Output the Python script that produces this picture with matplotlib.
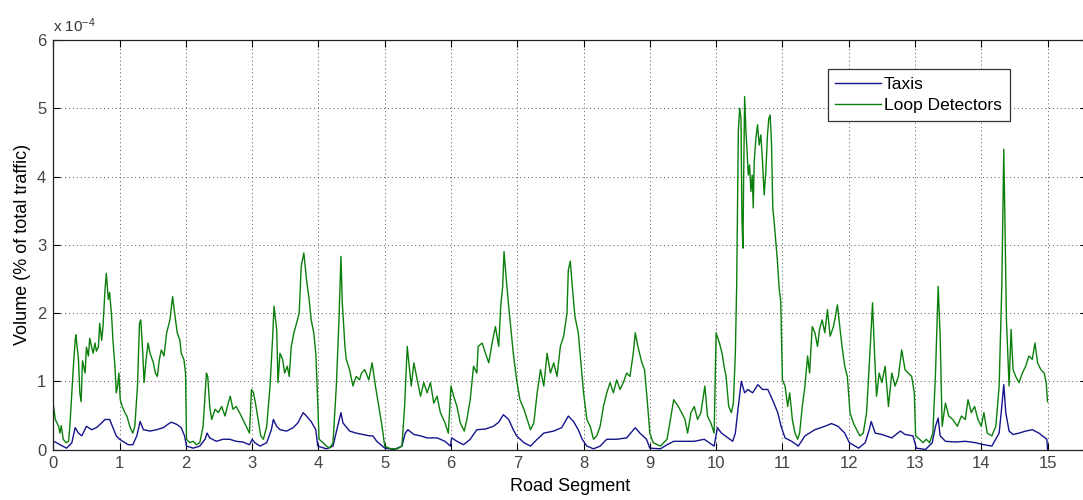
import matplotlib.pyplot as plt

plt.rcParams['font.family'] = ['Liberation Sans', 'DejaVu Sans']
plt.rcParams['mathtext.default'] = 'regular'

# Volume along road segments, in units of 1e-4 (% of total traffic)
loop_x = [0.00, 0.03, 0.08, 0.10, 0.12, 0.15, 0.19, 0.23, 0.25, 0.30, 0.33, 0.34, 0.38, 0.40, 0.42,
          0.44, 0.48, 0.50, 0.53, 0.55, 0.60, 0.63, 0.65, 0.68, 0.70, 0.73, 0.75, 0.78, 0.80, 0.83,
          0.85, 0.88, 0.90, 0.93, 0.95, 0.97, 0.99, 1.01, 1.04, 1.08, 1.11, 1.16, 1.20, 1.23, 1.27,
          1.30, 1.32, 1.35, 1.37, 1.40, 1.43, 1.46, 1.51, 1.54, 1.57, 1.60, 1.63, 1.67, 1.71, 1.76,
          1.80, 1.83, 1.87, 1.91, 1.93, 1.97, 1.995, 2.01, 2.06, 2.11, 2.16, 2.21, 2.26, 2.31, 2.33,
          2.36, 2.39, 2.44, 2.49, 2.54, 2.59, 2.64, 2.67, 2.71, 2.76, 2.81, 2.86, 2.91, 2.96, 2.99,
          3.02, 3.05, 3.09, 3.13, 3.17, 3.22, 3.27, 3.31, 3.33, 3.37, 3.39, 3.42, 3.46, 3.49, 3.53,
          3.56, 3.59, 3.63, 3.67, 3.71, 3.74, 3.78, 3.82, 3.86, 3.89, 3.93, 3.96, 3.98, 4.01, 4.07,
          4.12, 4.17, 4.22, 4.27, 4.31, 4.34, 4.36, 4.40, 4.42, 4.47, 4.52, 4.57, 4.62, 4.65, 4.70,
          4.76, 4.81, 4.86, 4.91, 4.96, 5.00, 5.09, 5.19, 5.26, 5.30, 5.34, 5.36, 5.40, 5.44, 5.49,
          5.54, 5.59, 5.64, 5.69, 5.74, 5.79, 5.84, 5.91, 5.96, 6.00, 6.04, 6.09, 6.14, 6.20, 6.24,
          6.29, 6.34, 6.39, 6.41, 6.47, 6.52, 6.57, 6.62, 6.67, 6.72, 6.75, 6.78, 6.80, 6.83, 6.87,
          6.90, 6.94, 6.99, 7.04, 7.10, 7.15, 7.20, 7.25, 7.30, 7.35, 7.40, 7.45, 7.50, 7.55, 7.60,
          7.65, 7.70, 7.75, 7.77, 7.80, 7.83, 7.87, 7.92, 7.96, 8.00, 8.05, 8.10, 8.15, 8.20, 8.25,
          8.30, 8.35, 8.40, 8.45, 8.50, 8.55, 8.60, 8.65, 8.70, 8.75, 8.78, 8.82, 8.88, 8.92, 8.96,
          9.00, 9.05, 9.16, 9.26, 9.31, 9.36, 9.43, 9.48, 9.53, 9.57, 9.62, 9.67, 9.72, 9.77, 9.83,
          9.87, 9.92, 9.97, 10.00, 10.05, 10.09, 10.12, 10.15, 10.19, 10.23, 10.26, 10.29, 10.31, 10.335,
          10.355, 10.375, 10.39, 10.405, 10.415, 10.43, 10.45, 10.465, 10.485, 10.505, 10.525, 10.545, 10.56, 10.575, 10.60,
          10.625, 10.65, 10.675, 10.70, 10.725, 10.75, 10.775, 10.795, 10.815, 10.835, 10.855, 10.875, 10.90, 10.925, 10.95,
          10.975, 11.00, 11.04, 11.08, 11.11, 11.15, 11.19, 11.23, 11.26, 11.30, 11.34, 11.38, 11.41, 11.45, 11.49,
          11.53, 11.56, 11.60, 11.64, 11.68, 11.72, 11.77, 11.80, 11.83, 11.87, 11.90, 11.94, 11.98, 12.02, 12.07,
          12.12, 12.17, 12.22, 12.27, 12.32, 12.36, 12.39, 12.42, 12.46, 12.50, 12.55, 12.60, 12.65, 12.70, 12.75,
          12.80, 12.85, 12.90, 12.95, 12.99, 13.01, 13.07, 13.12, 13.17, 13.22, 13.27, 13.31, 13.35, 13.38, 13.41,
          13.46, 13.51, 13.57, 13.64, 13.70, 13.76, 13.80, 13.85, 13.90, 13.95, 14.00, 14.04, 14.09, 14.16, 14.22,
          14.27, 14.31, 14.34, 14.36, 14.38, 14.42, 14.45, 14.48, 14.52, 14.57, 14.62, 14.67, 14.72, 14.77, 14.81,
          14.85, 14.90, 14.95, 14.98, 15.00]
loop_v = [0.66, 0.44, 0.34, 0.24, 0.35, 0.15, 0.10, 0.12, 0.34, 1.17, 1.60, 1.68, 1.32, 0.83, 0.70,
          1.30, 1.12, 1.50, 1.37, 1.63, 1.41, 1.56, 1.44, 1.50, 1.85, 1.60, 1.80, 2.34, 2.58, 2.20,
          2.30, 1.95, 1.60, 1.22, 0.83, 0.93, 1.12, 0.73, 0.63, 0.54, 0.49, 0.32, 0.24, 0.34, 0.93,
          1.85, 1.90, 1.41, 0.98, 1.32, 1.56, 1.41, 1.27, 1.12, 1.07, 1.32, 1.46, 1.37, 1.71, 1.90,
          2.24, 2.00, 1.71, 1.60, 1.41, 1.32, 1.12, 0.15, 0.10, 0.12, 0.07, 0.10, 0.34, 1.12, 1.07,
          0.63, 0.44, 0.59, 0.54, 0.63, 0.49, 0.68, 0.78, 0.59, 0.63, 0.54, 0.44, 0.34, 0.24, 0.88,
          0.83, 0.68, 0.44, 0.20, 0.15, 0.34, 0.93, 1.66, 2.10, 1.76, 0.98, 1.41, 1.32, 1.12, 1.22,
          1.07, 1.51, 1.71, 1.85, 2.00, 2.68, 2.88, 2.49, 2.20, 1.90, 1.71, 1.41, 0.93, 0.15, 0.10,
          0.05, 0.02, 0.10, 0.93, 1.90, 2.83, 2.15, 1.51, 1.32, 1.17, 0.93, 1.07, 1.02, 1.12, 1.17,
          1.02, 1.27, 0.93, 0.63, 0.34, 0.05, 0.01, 0.01, 0.05, 0.63, 1.51, 1.32, 0.93, 1.27, 1.02,
          0.78, 0.98, 0.83, 0.98, 0.68, 0.78, 0.54, 0.39, 0.24, 0.93, 0.78, 0.63, 0.39, 0.27, 0.44,
          0.73, 1.22, 1.12, 1.51, 1.56, 1.41, 1.27, 1.56, 1.80, 1.51, 2.10, 2.39, 2.90, 2.54, 2.10,
          1.80, 1.41, 1.02, 0.73, 0.59, 0.44, 0.29, 0.39, 0.83, 1.17, 0.93, 1.41, 1.12, 1.27, 1.07,
          1.51, 1.66, 2.00, 2.63, 2.76, 2.39, 1.95, 1.71, 1.27, 0.83, 0.44, 0.34, 0.15, 0.20, 0.34,
          0.63, 0.83, 0.98, 0.83, 1.02, 0.88, 0.98, 1.12, 1.07, 1.41, 1.71, 1.51, 1.27, 1.17, 0.73,
          0.24, 0.10, 0.05, 0.15, 0.44, 0.73, 0.63, 0.54, 0.44, 0.24, 0.54, 0.63, 0.44, 0.54, 0.93,
          0.49, 0.39, 0.24, 1.71, 1.56, 1.41, 1.22, 1.07, 0.63, 0.54, 0.68, 1.41, 2.40, 4.66,
          5.00, 4.85, 3.34, 2.95, 3.93, 5.17, 4.66, 4.41, 4.02, 4.17, 3.78, 4.02, 3.54, 4.22, 4.56,
          4.76, 4.46, 4.61, 4.22, 3.73, 4.07, 4.61, 4.85, 4.90, 4.51, 3.54, 3.34, 3.05, 2.76, 2.37,
          2.17, 1.02, 0.93, 0.63, 0.83, 0.44, 0.24, 0.15, 0.24, 0.63, 0.93, 1.37, 1.12, 1.80, 1.71,
          1.51, 1.76, 1.90, 1.71, 2.05, 1.66, 1.80, 1.95, 2.12, 1.76, 1.51, 1.22, 1.07, 0.54, 0.39,
          0.29, 0.20, 0.24, 0.54, 1.41, 2.15, 1.41, 0.78, 1.12, 0.98, 1.22, 0.63, 1.12, 0.93, 1.07,
          1.46, 1.17, 1.12, 1.07, 0.83, 0.20, 0.15, 0.10, 0.15, 0.10, 0.24, 1.12, 2.39, 1.66, 0.34,
          0.68, 0.49, 0.44, 0.34, 0.49, 0.44, 0.73, 0.54, 0.63, 0.44, 0.34, 0.54, 0.24, 0.20, 0.34,
          0.93, 2.39, 4.40, 3.20, 1.90, 0.93, 1.76, 1.17, 1.07, 0.98, 1.12, 1.22, 1.37, 1.32, 1.56,
          1.27, 1.17, 1.12, 0.98, 0.70]

taxi_x = [0.00, 0.05, 0.10, 0.20, 0.28, 0.33, 0.38, 0.43, 0.50, 0.58, 0.65, 0.73, 0.78, 0.85, 0.90,
          0.95, 1.00, 1.05, 1.13, 1.20, 1.26, 1.31, 1.36, 1.46, 1.56, 1.66, 1.73, 1.78, 1.86, 1.93,
          1.98, 2.01, 2.11, 2.21, 2.29, 2.32, 2.36, 2.46, 2.56, 2.66, 2.76, 2.86, 2.96, 3.00, 3.04,
          3.12, 3.22, 3.29, 3.32, 3.37, 3.42, 3.52, 3.62, 3.69, 3.77, 3.82, 3.89, 3.96, 3.99, 4.12,
          4.22, 4.29, 4.34, 4.37, 4.47, 4.57, 4.67, 4.77, 4.82, 4.88, 5.00, 5.14, 5.26, 5.31, 5.35,
          5.44, 5.54, 5.64, 5.79, 5.91, 5.99, 6.01, 6.09, 6.19, 6.29, 6.39, 6.52, 6.64, 6.72, 6.79,
          6.87, 6.94, 6.99, 7.10, 7.20, 7.30, 7.40, 7.55, 7.67, 7.77, 7.85, 7.92, 7.98, 8.05, 8.15,
          8.25, 8.35, 8.50, 8.65, 8.78, 8.85, 8.95, 9.00, 9.16, 9.26, 9.36, 9.50, 9.67, 9.82, 9.97,
          10.02, 10.08, 10.18, 10.25, 10.29, 10.33, 10.38, 10.43, 10.48, 10.55, 10.63, 10.70, 10.78, 10.85, 10.93,
          10.98, 11.04, 11.14, 11.24, 11.34, 11.49, 11.64, 11.74, 11.84, 11.94, 12.01, 12.15, 12.25, 12.31, 12.34,
          12.40, 12.50, 12.65, 12.78, 12.85, 12.97, 13.02, 13.16, 13.26, 13.31, 13.35, 13.38, 13.46, 13.61, 13.76,
          13.91, 14.04, 14.16, 14.27, 14.31, 14.34, 14.37, 14.42, 14.48, 14.57, 14.67, 14.77, 14.87, 14.99, 15.00]
taxi_v = [0.12, 0.10, 0.07, 0.02, 0.10, 0.32, 0.24, 0.20, 0.34, 0.29, 0.32, 0.39, 0.44, 0.44, 0.32,
          0.20, 0.15, 0.12, 0.07, 0.07, 0.20, 0.41, 0.29, 0.27, 0.29, 0.32, 0.37, 0.40, 0.37, 0.32,
          0.20, 0.05, 0.02, 0.05, 0.15, 0.24, 0.17, 0.12, 0.15, 0.15, 0.12, 0.11, 0.07, 0.15, 0.10,
          0.05, 0.10, 0.29, 0.44, 0.34, 0.29, 0.27, 0.32, 0.39, 0.54, 0.49, 0.41, 0.29, 0.05, 0.01,
          0.05, 0.34, 0.54, 0.39, 0.27, 0.24, 0.22, 0.20, 0.20, 0.12, 0.02, 0.00, 0.05, 0.24, 0.29,
          0.22, 0.20, 0.17, 0.17, 0.12, 0.05, 0.17, 0.12, 0.07, 0.15, 0.29, 0.30, 0.34, 0.40, 0.51,
          0.44, 0.29, 0.20, 0.10, 0.05, 0.15, 0.24, 0.27, 0.32, 0.49, 0.41, 0.29, 0.15, 0.05, 0.01,
          0.05, 0.15, 0.15, 0.17, 0.32, 0.24, 0.15, 0.02, 0.01, 0.07, 0.12, 0.12, 0.12, 0.15, 0.05,
          0.32, 0.24, 0.17, 0.12, 0.24, 0.59, 1.00, 0.83, 0.88, 0.83, 0.95, 0.88, 0.88, 0.73, 0.54,
          0.34, 0.17, 0.12, 0.05, 0.20, 0.29, 0.34, 0.38, 0.34, 0.24, 0.10, 0.02, 0.10, 0.29, 0.41,
          0.24, 0.22, 0.17, 0.27, 0.22, 0.20, 0.02, 0.00, 0.10, 0.34, 0.46, 0.20, 0.12, 0.11, 0.12,
          0.10, 0.07, 0.05, 0.24, 0.63, 0.95, 0.54, 0.27, 0.22, 0.24, 0.27, 0.29, 0.24, 0.15, 0.00]

x_ticks = list(range(16))
y_ticks = [0, 1, 2, 3, 4, 5, 6]

fig = plt.figure(figsize=(10.83, 5.0), dpi=100)
ax = fig.add_axes([53.3 / 1083, 50.5 / 500, 1034 / 1083, 409.5 / 500])

ax.plot(taxi_x, taxi_v, color='#14148c', lw=1.0, label='Taxis')
ax.plot(loop_x, loop_v, color='#0b7f0b', lw=1.0, label='Loop Detectors')

ax.set_xlim(0, 15.6)
ax.set_ylim(0, 6)
ax.set_xticks(x_ticks)
ax.set_yticks(y_ticks)
ax.tick_params(direction='in', length=5, top=True, right=True, labelsize=12,
               labelcolor='#444444', pad=5)
ax.grid(True, color='#555555', linestyle=(0, (1, 3)), linewidth=0.7)
for s in ax.spines.values():
    s.set_color('#222222')
    s.set_linewidth(0.9)

ax.set_xlabel('Road Segment', fontsize=13, labelpad=5)
ax.set_ylabel('Volume (% of total traffic)', fontsize=13, labelpad=4)
ax.text(0.0, 1.012, r'x 10$^{-4}$', transform=ax.transAxes, fontsize=11,
        color='#333333', ha='left', va='bottom')

leg = ax.legend(loc='upper right', bbox_to_anchor=(0.925, 0.929), borderaxespad=0,
                fontsize=12.5, handlelength=2.65, fancybox=False, framealpha=1,
                edgecolor='#333333', borderpad=0.45, labelspacing=0.35, handletextpad=0.15)
leg.get_frame().set_linewidth(0.9)

fig.savefig('out.png', dpi=100)
